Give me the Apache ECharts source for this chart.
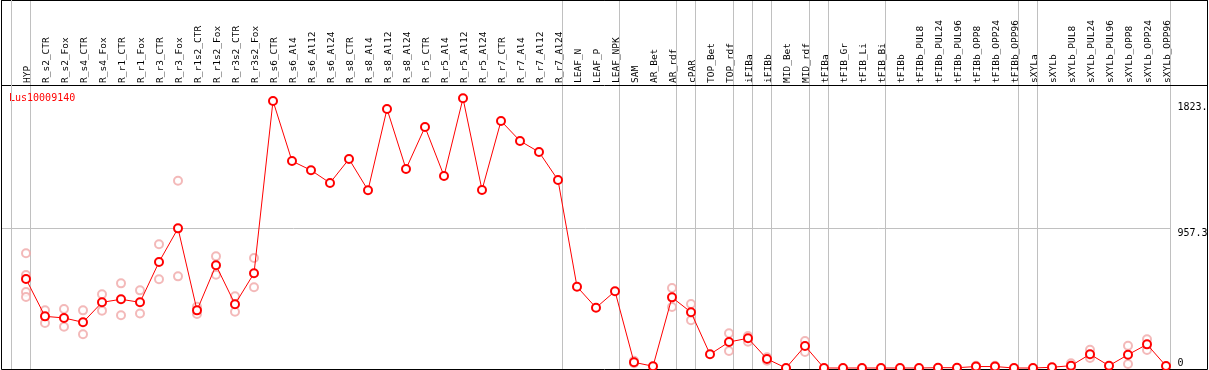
<!DOCTYPE html>
<html>
<head>
<meta charset="utf-8">
<script src="https://cdn.jsdelivr.net/npm/echarts@6/dist/echarts.min.js"></script>
<style>
  html, body { margin: 0; padding: 0; background: #fff; }
  #chart { width: 1209px; height: 370px; }
</style>
</head>
<body>
<div id="chart"></div>
<script>
// sample columns, left to right
const categories = [
  'HYP',
  'R_s2_CTR', 'R_s2_Fox', 'R_s4_CTR', 'R_s4_Fox', 'R_r1_CTR', 'R_r1_Fox', 'R_r3_CTR', 'R_r3_Fox',
  'R_r1s2_CTR', 'R_r1s2_Fox', 'R_r3s2_CTR', 'R_r3s2_Fox',
  'R_s6_CTR', 'R_s6_Al4', 'R_s6_Al12', 'R_s6_Al24', 'R_s8_CTR', 'R_s8_Al4', 'R_s8_Al12', 'R_s8_Al24',
  'R_r5_CTR', 'R_r5_Al4', 'R_r5_Al12', 'R_r5_Al24', 'R_r7_CTR', 'R_r7_Al4', 'R_r7_Al12', 'R_r7_Al24',
  'LEAF_N', 'LEAF_P', 'LEAF_NPK',
  'SAM', 'AR_Bet', 'AR_rdf', 'cPAR', 'TOP_Bet', 'TOP_rdf', 'iFIBa', 'iFIBb', 'MID_Bet', 'MID_rdf',
  'tFIBa', 'tFIB_Gr', 'tFIB_Li', 'tFIB_Bi',
  'tFIBb', 'tFIBb_PUL8', 'tFIBb_PUL24', 'tFIBb_PUL96', 'tFIBb_OPP8', 'tFIBb_OPP24', 'tFIBb_OPP96',
  'sXYLa', 'sXYLb', 'sXYLb_PUL8', 'sXYLb_PUL24', 'sXYLb_PUL96', 'sXYLb_OPP8', 'sXYLb_OPP24', 'sXYLb_OPP96'
];

// mean expression per column
const means = [
  610,
  354, 343, 313, 450, 471, 450, 726, 957,
  395, 704, 437, 649,
  1830, 1418, 1355, 1268, 1432, 1218, 1775, 1364,
  1651, 1316, 1848, 1220, 1693, 1556, 1480, 1288,
  557, 413, 526,
  39, 12, 484, 382, 94, 178, 204, 62, 0, 151,
  0, 0, 0, 0,
  0, 0, 2, 2, 10, 10, 0,
  0, 5, 16, 94, 16, 91, 162, 14
];

// individual replicates (faint circles)
const replicates = [
  [786, 637, 521, 487],
  [395, 308], [404, 283], [395, 231], [505, 393], [580, 361], [532, 374], [848, 608], [1283, 628],
  [420, 370], [765, 639], [491, 386], [754, 553],
  [], [], [], [], [], [], [], [],
  [], [], [], [], [], [], [], [],
  [], [], [],
  [50, 32], [], [548, 418], [439, 327], [], [238, 116], [219, 180], [73, 50], [], [185, 110],
  [], [], [], [],
  [], [], [], [], [15, 5], [15, 5], [],
  [], [], [32, 0], [125, 89, 68], [], [153, 27], [197, 123], []
];

// last column of each sample group (a grey rule follows it)
const groupEnds = [0, 28, 31, 34, 35, 37, 38, 39, 41, 42, 45, 52, 53, 60];

const yTickValues = [0, 957.3, 1823];
const yTickLabels = ['0', '957.3', '1823.'];
const yRuleValues = [957.3];
const geneName = 'Lus10009140';

const mono = 'DejaVu Sans Mono';
const RULE_OFFSET = 4.5 / 19;

const meanData = means.map((v, i) => [i, v]);
const repData = [];
replicates.forEach((list, i) => list.forEach(v => repData.push([i, v])));
const xRuleValues = groupEnds.map(e => e + RULE_OFFSET);

const ruleStyle = { color: '#c0c0c0', type: 'solid', width: 1 };
const frame = { backgroundColor: 'transparent', outerBoundsMode: 'none', containLabel: false };

const chart = echarts.init(document.getElementById('chart'));
chart.setOption({
  animation: false,
  title: {
    text: geneName,
    left: 9, top: 93.5, padding: 0,
    textStyle: { color: '#ff0000', fontSize: 10, fontWeight: 'normal', fontFamily: mono }
  },
  // rule in front of the first column
  graphic: [{
    type: 'line', silent: true, z: 100,
    shape: { x1: 11.5, y1: 0, x2: 11.5, y2: 369 },
    style: { stroke: '#c0c0c0', lineWidth: 1 }
  }],
  grid: [
    // data area (runs up through the header so the rules do too)
    { left: 1, right: 38.5, top: 0, bottom: 1, outerBoundsMode: 'none', containLabel: false },
    // header labels
    { left: 18.5, width: 1159, top: 85, height: 10, outerBoundsMode: 'none', containLabel: false },
    // outer frame
    Object.assign({ show: true, left: 1.5, right: 1.5, top: 0.5, bottom: 0.5, borderColor: '#000', borderWidth: 1, z: 1 }, frame),
    // header box
    Object.assign({ show: true, left: 1.5, right: 1.5, top: 0.5, height: 85, borderColor: '#000', borderWidth: 1, z: 1 }, frame)
  ],
  xAxis: [
    {
      gridIndex: 0, type: 'value', min: -25 / 19, max: 60 + RULE_OFFSET,
      axisLine: { show: false }, axisLabel: { show: false },
      axisTick: { show: false, customValues: xRuleValues },
      splitLine: { show: true, lineStyle: ruleStyle }
    },
    {
      gridIndex: 1, type: 'category', position: 'top', data: categories,
      axisLine: { show: false }, axisTick: { show: false }, splitLine: { show: false },
      axisLabel: { interval: 0, rotate: 90, margin: 2, fontSize: 9.5, color: '#000', fontFamily: mono }
    },
    { gridIndex: 2, type: 'value', show: false },
    { gridIndex: 3, type: 'value', show: false }
  ],
  yAxis: [
    {
      gridIndex: 0, type: 'value', position: 'right', min: -6.85, max: 2521.8,
      axisLine: { show: false },
      axisTick: { show: false, customValues: yRuleValues },
      splitLine: { show: true, lineStyle: ruleStyle },
      axisLabel: {
        customValues: yTickValues,
        margin: 7, fontSize: 10, color: '#000', fontFamily: mono,
        verticalAlign: 'middle', lineHeight: 10,
        formatter: v => {
          const t = yTickLabels[yTickValues.indexOf(v)];
          return v === 0 ? t + '\n' : '\n' + t;
        }
      }
    },
    { gridIndex: 1, type: 'value', show: false },
    { gridIndex: 2, type: 'value', show: false },
    { gridIndex: 3, type: 'value', show: false }
  ],
  series: [
    {
      type: 'scatter',
      xAxisIndex: 0, yAxisIndex: 0,
      data: repData,
      symbol: 'emptyCircle',
      symbolSize: 8,
      clip: false,
      itemStyle: { color: '#f0a8a8', borderWidth: 1.1 },
      z: 2
    },
    {
      type: 'line',
      xAxisIndex: 0, yAxisIndex: 0,
      data: meanData,
      symbol: 'emptyCircle',
      symbolSize: 8,
      clip: false,
      lineStyle: { color: '#ff0000', width: 1 },
      itemStyle: { color: '#ff0000', borderWidth: 1.2 },
      z: 3
    }
  ]
});
</script>
</body>
</html>
